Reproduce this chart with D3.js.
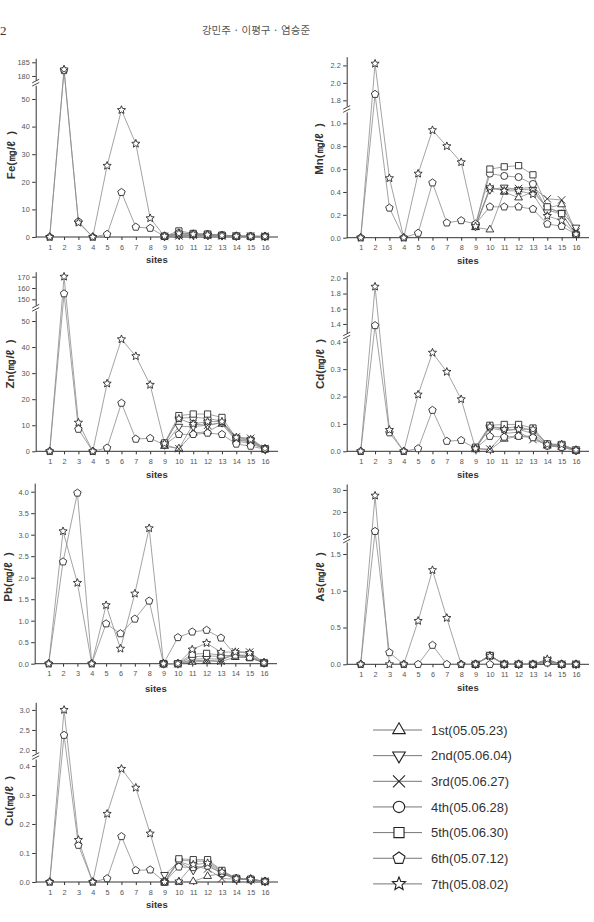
<!DOCTYPE html>
<html><head><meta charset="utf-8">
<script src="https://cdn.jsdelivr.net/npm/d3@7"></script>
<style>
html,body{margin:0;padding:0;background:#fff;}
svg{display:block;}
</style></head><body>
<svg id="c" width="594" height="922"></svg>
<script>
// ---------------- DATA ----------------
const sites = [1,2,3,4,5,6,7,8,9,10,11,12,13,14,15,16];
const seriesLabels = ["1st(05.05.23)","2nd(05.06.04)","3rd(05.06.27)","4th(05.06.28)","5th(05.06.30)","6th(05.07.12)","7th(05.08.02)"];
const N = null;

// Fe (mg/l)
const feValues = [
  [N,N,N,N,N,N,N,N, 0.2,0.5,0.6,0.5,0.4,0.2,0.2,0.2],
  [N,N,N,N,N,N,N,N, 0.2,0.8,0.8,0.7,0.5,0.3,0.2,0.2],
  [N,N,N,N,N,N,N,N, 0.2,0.4,0.7,0.6,0.4,0.3,0.3,0.2],
  [N,N,N,N,N,N,N,N, 0.3,1.2,1.0,0.9,0.6,0.3,0.2,0.2],
  [N,N,N,N,N,N,N,N, 0.3,2.2,1.3,1.1,0.7,0.4,0.3,0.2],
  [0,182,5.6,0,1.0,16.2,3.6,3.2, 0.3,1.5,1.1,0.9,0.6,0.3,0.2,0.2],
  [0,182.4,5.2,0,25.8,46,33.8,6.8, 0.3,1.3,1.0,0.8,0.5,0.3,0.2,0.2]
];
const feLowTicks = [0,10,20,30,40,50];
const feUpTicks = [180,185];

// Mn
const mnValues = [
  [N,N,N,N,N,N,N,N, 0.09,0.07,0.40,0.35,0.40,0.26,0.29,0.04],
  [N,N,N,N,N,N,N,N, 0.10,0.42,0.44,0.42,0.42,0.26,0.22,0.09],
  [N,N,N,N,N,N,N,N, 0.10,0.43,0.42,0.43,0.44,0.34,0.33,0.05],
  [N,N,N,N,N,N,N,N, 0.11,0.56,0.54,0.53,0.47,0.24,0.21,0.03],
  [N,N,N,N,N,N,N,N, 0.11,0.60,0.62,0.63,0.55,0.27,0.21,0.03],
  [0,1.87,0.26,0,0.04,0.48,0.13,0.15, 0.12,0.27,0.27,0.27,0.25,0.12,0.10,0.03],
  [0,2.22,0.52,0,0.56,0.94,0.80,0.66, 0.10,0.44,0.41,0.41,0.38,0.19,0.15,0.03]
];
const mnLowTicks = [0,0.2,0.4,0.6,0.8,1.0];
const mnUpTicks = [1.8,2.0,2.2];

// Zn
const znValues = [
  [N,N,N,N,N,N,N,N, 2.0,1.0,7.0,7.5,10.5,4.0,3.0,0.8],
  [N,N,N,N,N,N,N,N, 2.5,9.5,9.5,10.0,11.0,4.5,4.0,0.8],
  [N,N,N,N,N,N,N,N, 2.5,1.0,10.5,10.0,11.0,5.5,5.0,1.0],
  [N,N,N,N,N,N,N,N, 2.8,12.7,13.0,12.7,11.5,4.5,3.5,1.0],
  [N,N,N,N,N,N,N,N, 3.2,13.7,14.3,14.3,13.0,5.0,4.2,1.0],
  [0,155,8.5,0,1.3,18.5,4.7,5.0, 2.5,6.5,6.5,7.0,6.5,2.8,2.0,0.8],
  [0,170,11,0,26,43,36.5,25.5, 3.0,12.5,10.5,11.4,11.4,5.3,4.5,1.0]
];
const znLowTicks = [0,10,20,30,40,50];
const znUpTicks = [150,160,170];

// Cd
const cdValues = [
  [N,N,N,N,N,N,N,N, 0.010,0.005,0.045,0.055,0.055,0.020,0.015,0.003],
  [N,N,N,N,N,N,N,N, 0.010,0.085,0.075,0.080,0.065,0.022,0.020,0.003],
  [N,N,N,N,N,N,N,N, 0.010,0.008,0.065,0.070,0.043,0.025,0.022,0.004],
  [N,N,N,N,N,N,N,N, 0.012,0.090,0.085,0.090,0.075,0.025,0.020,0.004],
  [N,N,N,N,N,N,N,N, 0.015,0.095,0.098,0.098,0.085,0.027,0.025,0.005],
  [0,1.38,0.068,0,0.010,0.150,0.037,0.040, 0.010,0.055,0.052,0.055,0.050,0.020,0.015,0.003],
  [0,1.89,0.078,0,0.207,0.360,0.290,0.190, 0.010,0.090,0.080,0.080,0.080,0.025,0.025,0.005]
];
const cdLowTicks = [0,0.1,0.2,0.3,0.4];
const cdUpTicks = [1.4,1.6,1.8,2.0];

// Pb
const pbValues = [
  [N,N,N,N,N,N,N,N, 0,0,0.04,0.06,0.05,0.15,0.14,0.02],
  [N,N,N,N,N,N,N,N, 0,0,0.10,0.12,0.10,0.20,0.20,0.02],
  [N,N,N,N,N,N,N,N, 0,0,0.07,0.08,0.06,0.28,0.27,0.02],
  [N,N,N,N,N,N,N,N, 0,0,0.16,0.18,0.17,0.20,0.17,0.02],
  [N,N,N,N,N,N,N,N, 0,0,0.22,0.24,0.20,0.17,0.14,0.02],
  [0,2.37,3.97,0,0.93,0.70,1.04,1.46, 0,0.61,0.74,0.78,0.60,0.20,0.15,0.02],
  [0,3.08,1.88,0,1.36,0.35,1.63,3.15, 0,0,0.33,0.48,0.27,0.27,0.25,0.02]
];
const pbLowTicks = [0,0.5,1.0,1.5,2.0,2.5,3.0,3.5,4.0];

// As
const asValues = [
  [N,N,N,N,N,N,N,N, 0,0.11,0,0,0,0.04,0,0],
  [N,N,N,N,N,N,N,N, 0,0.12,0,0,0,0.05,0,0],
  [N,N,N,N,N,N,N,N, 0,0.12,0,0,0,0.06,0,0],
  [N,N,N,N,N,N,N,N, 0,0.12,0,0,0,0.05,0,0],
  [N,N,N,N,N,N,N,N, 0,0.12,0,0,0,0.04,0,0],
  [0,11.2,0.16,0,0,0.26,0,0, 0,0,0,0,0,0.02,0,0],
  [0,27.4,0,0,0.59,1.28,0.63,0, 0,0.11,0,0,0,0.07,0,0]
];
const asLowTicks = [0,0.5,1.0,1.5];
const asUpTicks = [10,20,30];

// Cu
const cuValues = [
  [N,N,N,N,N,N,N,N, 0,0,0.002,0.020,0.030,0.010,0.010,0.002],
  [N,N,N,N,N,N,N,N, 0.025,0.070,0.040,0.060,0.030,0.010,0.008,0.002],
  [N,N,N,N,N,N,N,N, 0,0.070,0.055,0.045,0.012,0.010,0.008,0.002],
  [N,N,N,N,N,N,N,N, 0,0.075,0.072,0.072,0.037,0.012,0.009,0.002],
  [N,N,N,N,N,N,N,N, 0,0.080,0.077,0.077,0.040,0.013,0.010,0.002],
  [0,2.37,0.127,0,0.012,0.157,0.040,0.042, 0,0.052,0.050,0.055,0.030,0.010,0.008,0.002],
  [0,3.0,0.145,0,0.235,0.390,0.325,0.167, 0,0.002,0.060,0.065,0.035,0.012,0.010,0.002]
];
const cuLowTicks = [0,0.1,0.2,0.3,0.4];
const cuUpTicks = [2.0,2.5,3.0];

// ---------------- LAYOUT ----------------
const symbolTypes = ["triUp","triDown","x","circle","square","pentagon","star"];
const L = {xl:35.7, s1:49.7, s16:265, xr:278};
const R = {xl:346.7, s1:360.7, s16:576, xr:589};
const panels = [
  {el:"Fe", v:feValues, lt:feLowTicks, ut:feUpTicks, fmt:"d", c:L, y0:237, lowDom:[0,55], lowTop:85.2, upDom:[178.5,186.5], upB:80.1, upT:58.2, lx:11, ly:155},
  {el:"Mn", v:mnValues, lt:mnLowTicks, ut:mnUpTicks, fmt:".1f", c:R, y0:237.7, lowDom:[0,1.1], lowTop:111.9, upDom:[1.735,2.3], upB:106, upT:56.7, lx:319, ly:149},
  {el:"Zn", v:znValues, lt:znLowTicks, ut:znUpTicks, fmt:"d", c:L, y0:451.3, lowDom:[0,54], lowTop:310.6, upDom:[145,174.4], upB:305, upT:271.7, lx:10, ly:364},
  {el:"Cd", v:cdValues, lt:cdLowTicks, ut:cdUpTicks, fmt:".1f", c:R, y0:451.3, lowDom:[0,0.414], lowTop:337.9, upDom:[1.28,2.087], upB:333.1, upT:271.7, lx:320, ly:364},
  {el:"Pb", v:pbValues, lt:pbLowTicks, ut:null, fmt:".1f", c:{xl:34.7, s1:48.7, s16:264, xr:277}, y0:663.7, lowDom:[0,4.2], lowTop:483.1, upDom:null, lx:8, ly:577, sitesOff:28},
  {el:"As", v:asValues, lt:asLowTicks, ut:asUpTicks, fmt:".1f", ufmt:"d", c:R, y0:664.3, lowDom:[0,1.663], lowTop:542, upDom:[8.6,32.7], upB:537, upT:484, lx:320, ly:577},
  {el:"Cu", v:cuValues, lt:cuLowTicks, ut:cuUpTicks, fmt:".1f", c:L, y0:882, lowDom:[0,0.424], lowTop:759, upDom:[1.925,3.19], upB:753, upT:702.3, lx:9, ly:801}
];

function symPath(type, s){
  const p = [];
  switch(type){
    case "triUp": { const r=s*1.15; return `M0,${-r}L${r*0.866},${r*0.5}L${-r*0.866},${r*0.5}Z`; }
    case "triDown": { const r=s*1.15; return `M0,${r}L${r*0.866},${-r*0.5}L${-r*0.866},${-r*0.5}Z`; }
    case "x": { const h=s*0.95; return `M${-h},${-h}L${h},${h}M${-h},${h}L${h},${-h}`; }
    case "circle": { const r=s*0.9; return `M${r},0A${r},${r} 0 1,1 ${-r},0A${r},${r} 0 1,1 ${r},0Z`; }
    case "square": { const h=s*0.8; return `M${-h},${-h}H${h}V${h}H${-h}Z`; }
    case "pentagon": { const r=s; for(let i=0;i<5;i++){const a=-Math.PI/2+i*2*Math.PI/5; p.push([r*Math.cos(a), r*Math.sin(a)]);} return "M"+p.map(d=>d.join(",")).join("L")+"Z"; }
    case "star": { const r=s*1.1, ri=r*0.45; for(let i=0;i<10;i++){const a=-Math.PI/2+i*Math.PI/5; const rr=i%2?ri:r; p.push([rr*Math.cos(a), rr*Math.sin(a)]);} return "M"+p.map(d=>d.join(",")).join("L")+"Z"; }
  }
}

const svg = d3.select("#c");
const FONT = "'Liberation Sans', Arial, sans-serif";

// header
svg.append("text").attr("x",0).attr("y",35).attr("font-family","'Liberation Serif', serif").attr("font-size",13).attr("fill","#333").text("2");
svg.append("text").attr("x",256).attr("y",34).attr("text-anchor","middle").attr("font-family","'Noto Sans CJK KR', sans-serif").attr("font-size",10.5).attr("fill","#555").text("강민주 · 이평구 · 염승준");

panels.forEach(p => {
  const g = svg.append("g");
  const x = d3.scaleLinear().domain([sites[0], sites[sites.length-1]]).range([p.c.s1, p.c.s16]);
  const lo = d3.scaleLinear().domain(p.lowDom).range([p.y0, p.lowTop]);
  const up = p.upDom ? d3.scaleLinear().domain(p.upDom).range([p.upB, p.upT]) : null;
  const y = v => (up && v > p.lowDom[1]) ? up(v) : lo(v);

  // x axis
  const xa = g.append("g").attr("transform",`translate(0,${p.y0})`)
    .call(d3.axisBottom(x).tickValues(sites).tickSize(3).tickPadding(4.5).tickFormat(d3.format("d")));
  xa.select(".domain").remove();
  xa.append("line").attr("x1",p.c.xl).attr("x2",p.c.xr).attr("stroke","#333").attr("stroke-width",1);
  // y axes
  g.append("g").attr("transform",`translate(${p.c.xl},0)`)
    .call(d3.axisLeft(lo).tickValues(p.lt).tickSize(3.5).tickSizeOuter(0).tickPadding(2.5).tickFormat(d3.format(p.fmt)));
  if (up){
    g.append("g").attr("transform",`translate(${p.c.xl},0)`)
      .call(d3.axisLeft(up).tickValues(p.ut).tickSize(3.5).tickSizeOuter(0).tickPadding(2.5).tickFormat(d3.format(p.ufmt||p.fmt)));
    const yb = (p.lowTop + p.upB)/2;
    [-1.6,1.6].forEach(d => {
      g.append("line").attr("x1",p.c.xl-3.5).attr("y1",yb+d+1.8).attr("x2",p.c.xl+3.5).attr("y2",yb+d-1.8)
        .attr("stroke","#333").attr("stroke-width",0.9);
    });
  }
  g.selectAll(".domain").attr("stroke","#333");
  g.selectAll(".tick line").attr("stroke","#333");
  g.selectAll(".tick text").attr("font-family",FONT).attr("font-size",7.3).attr("fill","#555");

  // lines
  const line = d3.line().defined(d => d.v != null).x(d => x(d.s)).y(d => y(d.v));
  p.v.forEach((vals, i) => {
    g.append("path").datum(sites.map((s,k)=>({s, v:vals[k]})))
      .attr("d", line).attr("fill","none").attr("stroke","#8c8c8c").attr("stroke-width",0.8);
  });
  // markers
  p.v.forEach((vals, i) => {
    const pts = sites.map((s,k)=>({s, v:vals[k]})).filter(d => d.v != null);
    g.selectAll(null).data(pts).enter().append("path")
      .attr("transform", d => `translate(${x(d.s)},${y(d.v)})`)
      .attr("d", symPath(symbolTypes[i], 3.9))
      .attr("fill", symbolTypes[i]==="x" ? "none" : "#fff")
      .attr("stroke","#2a2a2a").attr("stroke-width",0.9);
  });

  // labels
  g.append("text").attr("x",(p.c.xl+p.c.xr)/2).attr("y",p.y0 + (p.sitesOff||26.3))
    .attr("text-anchor","middle").attr("font-family",FONT).attr("font-weight","bold")
    .attr("font-size",9.5).attr("fill","#333").text("sites");
  g.append("text").attr("transform",`translate(${p.lx},${p.ly}) rotate(-90)`)
    .attr("text-anchor","middle").attr("dy","0.35em").attr("font-family",FONT).attr("font-weight","bold")
    .attr("font-size",11.5).attr("fill","#333").text(p.el + "(㎎/ℓ\u00A0\u00A0)");
});

// legend
const lg = svg.append("g");
seriesLabels.forEach((lab, i) => {
  const yy = 730 + i*25.65;
  lg.append("line").attr("x1",373).attr("x2",422).attr("y1",yy).attr("y2",yy).attr("stroke","#777").attr("stroke-width",1);
  lg.append("path").attr("transform",`translate(399,${yy})`).attr("d", symPath(symbolTypes[i], 6.3))
    .attr("fill", symbolTypes[i]==="x" ? "none" : "#fff").attr("stroke","#222").attr("stroke-width",1.1);
  lg.append("text").attr("x",431).attr("y",yy).attr("dy","0.36em").attr("font-family",FONT)
    .attr("font-size",13).attr("fill","#333").text(lab);
});
</script>
</body></html>
